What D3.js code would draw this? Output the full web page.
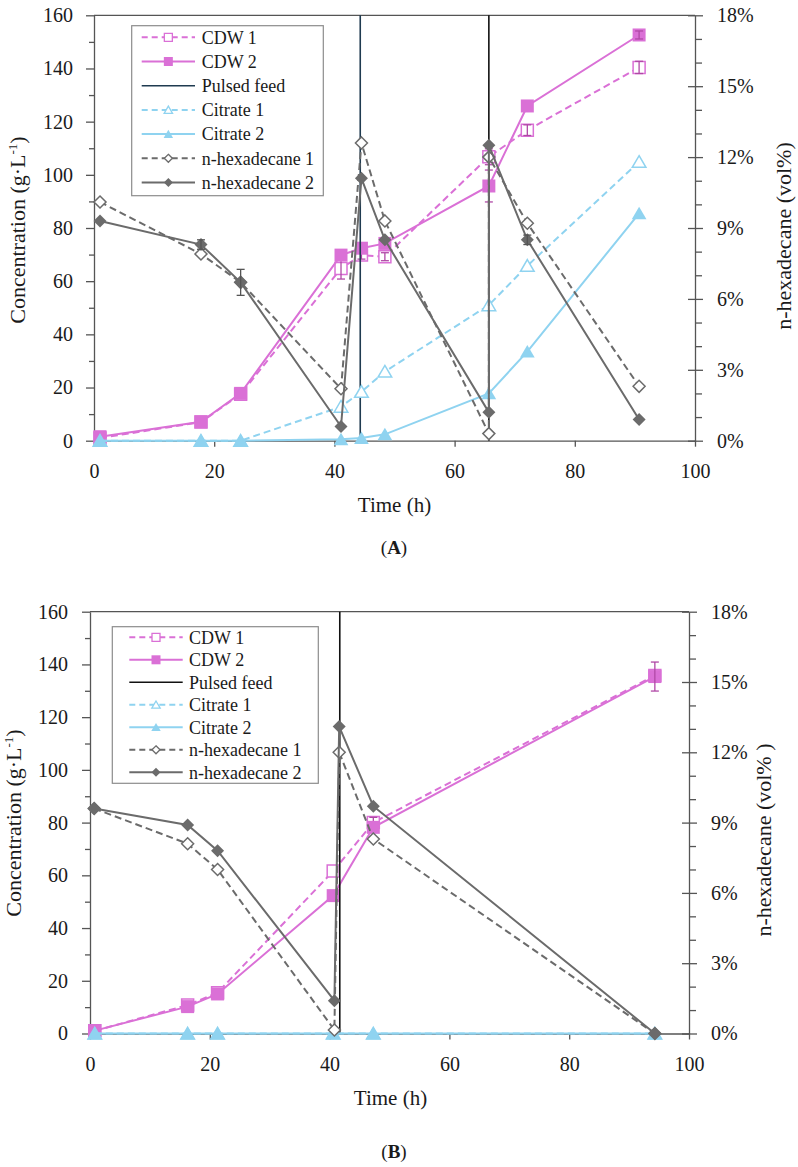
<!DOCTYPE html>
<html>
<head>
<meta charset="utf-8">
<script src="https://cdn.jsdelivr.net/npm/d3@7"></script>
<style>
body { margin: 0; background: #fff; }
svg text { font-family: "Liberation Serif", "Times New Roman", serif; }
</style>
</head>
<body>
<div id="chart"></div>
<script>
// ---- panel A data (time in h, concentration in g/L, n-hexadecane in vol%) ----
var timeA = [1.0, 17.8, 24.4, 41.1, 44.5, 48.4, 65.7, 72.1, 90.7];
var cdw1A = [1.0, 7.0, 17.5, 64.8, 69.8, 69.2, 106.8, 116.8, 140.4];
var cdw2A = [1.5, 7.1, 17.8, 69.8, 72.4, 74.2, 95.8, 125.9, 152.6];
var cdw1ErrA = [0, 0, 0, 4, 1.5, 1.5, 3, 2, 2.3];
var cdw2ErrA = [0, 0, 0, 0, 0, 0, 6, 0, 1.5];
var cit1A = [0, 0, 0, 12.8, 18.4, 26.0, 51.0, 65.8, 104.9];
var cit2A = [0, 0, 0, 0.5, 1.0, 2.4, 17.8, 33.5, 85.5];
var hexTimeA = [1.0, 17.8, 24.4, 41.1, 44.5, 48.4, 65.7, 65.7, 72.1, 90.7];
var hex1A = [10.1, 7.9, 6.7, 2.2, 12.6, 9.3, 0.3, 12.0, 9.2, 2.3];
var hex2A = [9.3, 8.3, 6.7, 0.6, 11.1, 8.5, 1.2, 12.5, 8.5, 0.9];
var hex2ErrA = [0, 0.2, 0.55, 0, 0, 0, 0, 0, 0.2, 0];
var pulseA = [44.3, 65.7];

// ---- panel B data ----
var timeB = [0.8, 16.3, 21.3, 40.6, 47.3, 94.3];
var cdw1B = [1.0, 10.8, 15.5, 61.6, 80.0, 135.8];
var cdw2B = [1.1, 10.2, 15.0, 52.3, 78.2, 135.4];
var cdw1ErrB = [0, 0, 0, 0, 2, 0];
var cdw2ErrB = [0, 0, 0, 0, 0, 5.5];
var cit1B = [0, 0, 0, 0, 0, 0];
var cit2B = [0, 0, 0, 0, 0, 0];
var hexTimeB = [0.7, 16.3, 21.3, 40.8, 41.6, 47.3, 94.3];
var hex1B = [9.6, 8.1, 7.0, 0.15, 12.0, 8.3, 0];
var hex2B = [9.6, 8.9, 7.8, 1.4, 13.1, 9.7, 0];
var pulseB = [41.7];

// axis ticks
var xTicks = [0, 20, 40, 60, 80, 100];
var leftTicks = [0, 20, 40, 60, 80, 100, 120, 140, 160];
var leftMinor = [10, 30, 50, 70, 90, 110, 130, 150];
var rightTicks = [0, 3, 6, 9, 12, 15, 18];
var rightMinor = [1, 2, 4, 5, 7, 8, 10, 11, 13, 14, 16, 17];
var legendNames = ["CDW 1", "CDW 2", "Pulsed feed", "Citrate 1", "Citrate 2", "n-hexadecane 1", "n-hexadecane 2"];

var pink = "#da70d6", pinkErr = "#b048a6", blue = "#8fd3f0", grey = "#6b6b6b",
    axisColor = "#555", textColor = "#1a1a1a";

var svg = d3.select("#chart").append("svg")
    .attr("width", 798)
    .attr("height", 1167);

// marker paths centred on 0,0
function markerPath(shape, s) {
    var h = s / 2;
    if (shape == "square") return "M" + (-h) + "," + (-h) + "H" + h + "V" + h + "H" + (-h) + "Z";
    if (shape == "triangle") return "M0," + (-h * 0.95) + "L" + (h * 1.05) + "," + (h * 0.85) + "L" + (-h * 1.05) + "," + (h * 0.85) + "Z";
    return "M0," + (-h) + "L" + h + ",0L0," + h + "L" + (-h) + ",0Z";
}

function drawPanel(p) {
    var x = d3.scaleLinear().domain([0, 100]).range([p.left, p.right]);
    var yL = d3.scaleLinear().domain([0, 160]).range([p.bottom, p.top]);
    var yR = d3.scaleLinear().domain([0, 18]).range([p.bottom, p.top]);
    var g = svg.append("g");

    //top border of the plot area
    g.append("line")
        .attr("x1", p.left).attr("x2", p.right)
        .attr("y1", p.top).attr("y2", p.top)
        .attr("stroke", axisColor).attr("stroke-width", 1.3);

    //left axis
    var la = g.append("g").attr("transform", "translate(" + p.left + ",0)")
        .call(d3.axisLeft(yL).tickValues(leftTicks).tickSize(8).tickSizeOuter(0).tickPadding(p.leftPad));
    g.append("g").attr("transform", "translate(" + p.left + ",0)")
        .call(d3.axisLeft(yL).tickValues(leftMinor).tickSize(5).tickSizeOuter(0).tickFormat(""))
        .select(".domain").remove();

    //right axis
    var ra = g.append("g").attr("transform", "translate(" + p.right + ",0)")
        .call(d3.axisRight(yR).tickValues(rightTicks).tickSize(8).tickSizeOuter(0).tickPadding(14)
            .tickFormat(function (d) { return d + "%"; }));
    ra.selectAll(".tick line").attr("x1", -7);
    g.append("g").attr("transform", "translate(" + p.right + ",0)")
        .call(d3.axisRight(yR).tickValues(rightMinor).tickSize(7).tickSizeOuter(0).tickFormat(""))
        .select(".domain").remove();

    //bottom axis
    var ba = g.append("g").attr("transform", "translate(0," + p.bottom + ")")
        .call(d3.axisBottom(x).tickValues(xTicks).tickSize(6).tickSizeOuter(0).tickPadding(17));

    g.selectAll(".domain, .tick line").attr("stroke", axisColor).attr("stroke-width", 1.3);
    [la, ra, ba].forEach(function (a) {
        a.selectAll("text").attr("fill", textColor).style("font-size", "20px");
    });

    //axis titles
    var lt = g.append("text")
        .attr("transform", "translate(" + p.leftTitle[0] + "," + p.leftTitle[1] + ") rotate(-90)")
        .attr("text-anchor", "middle").attr("dy", "0.35em")
        .attr("fill", textColor).style("font-size", "22px");
    lt.append("tspan").text("Concentration (g·L");
    lt.append("tspan").attr("dy", -8).style("font-size", "13px").text("-1");
    lt.append("tspan").attr("dy", 8).text(")");

    g.append("text")
        .attr("transform", "translate(" + p.rightTitle[0] + "," + p.rightTitle[1] + ") rotate(-90)")
        .attr("text-anchor", "middle").attr("dy", "0.35em")
        .attr("fill", textColor).style("font-size", "22px")
        .text(p.rightLabel);

    g.append("text")
        .attr("x", p.timeTitle[0]).attr("y", p.timeTitle[1])
        .attr("text-anchor", "middle").attr("dy", "0.35em")
        .attr("fill", textColor).style("font-size", "21px")
        .text("Time (h)");

    var pl = g.append("text")
        .attr("x", p.panelTitle[0]).attr("y", p.panelTitle[1])
        .attr("text-anchor", "middle").attr("dy", "0.35em")
        .attr("fill", textColor).style("font-size", "19px");
    pl.append("tspan").text("(");
    pl.append("tspan").style("font-weight", "bold").text(p.name);
    pl.append("tspan").text(")");

    //series
    p.series.forEach(function (s) {
        if (s.type == "pulse") {
            g.selectAll(null).data(s.times).enter().append("line")
                .attr("x1", function (d) { return x(d); })
                .attr("x2", function (d) { return x(d); })
                .attr("y1", p.bottom).attr("y2", p.top)
                .attr("stroke", function (d, i) { return s.colors[i]; })
                .attr("stroke-width", 1.6);
            return;
        }
        var yS = s.axis == "right" ? yR : yL;
        var pts = s.times.map(function (t, i) { return {t: t, v: s.values[i], e: s.err ? s.err[i] : 0}; });
        var line = d3.line().x(function (d) { return x(d.t); }).y(function (d) { return yS(d.v); });
        g.append("path").datum(pts)
            .attr("d", line)
            .attr("fill", "none")
            .attr("stroke", s.color)
            .attr("stroke-width", 2)
            .attr("stroke-dasharray", s.dashed ? "7,4" : null);
        g.selectAll(null).data(pts).enter().append("path")
            .attr("transform", function (d) { return "translate(" + x(d.t) + "," + yS(d.v) + ")"; })
            .attr("d", markerPath(s.shape, s.open ? s.size - 1 : s.size))
            .attr("fill", s.open ? "#fff" : s.color)
            .attr("stroke", s.color)
            .attr("stroke-width", s.open ? 1.5 : 0);
        var eb = g.selectAll(null).data(pts.filter(function (d) { return d.e > 0; })).enter().append("g")
            .attr("stroke", s.errColor).attr("stroke-width", 1.3);
        eb.append("line")
            .attr("x1", function (d) { return x(d.t); }).attr("x2", function (d) { return x(d.t); })
            .attr("y1", function (d) { return yS(d.v - d.e); }).attr("y2", function (d) { return yS(d.v + d.e); });
        [-1, 1].forEach(function (sign) {
            eb.append("line")
                .attr("x1", function (d) { return x(d.t) - 4; }).attr("x2", function (d) { return x(d.t) + 4; })
                .attr("y1", function (d) { return yS(d.v + sign * d.e); })
                .attr("y2", function (d) { return yS(d.v + sign * d.e); });
        });
    });

    //legend
    var lg = p.legend;
    var leg = g.append("g");
    leg.append("rect")
        .attr("x", lg.x0).attr("y", lg.y0)
        .attr("width", lg.x1 - lg.x0).attr("height", lg.y1 - lg.y0)
        .attr("fill", "#fff").attr("stroke", "#8c8c8c").attr("stroke-width", 1.2);
    var rows = leg.selectAll(null).data(p.series).enter().append("g")
        .attr("transform", function (d, i) { return "translate(0," + (lg.firstRow + i * lg.step) + ")"; });
    rows.append("line")
        .attr("x1", lg.sx0).attr("x2", lg.sx1)
        .attr("stroke", function (d) { return d.type == "pulse" ? d.colors[0] : d.color; })
        .attr("stroke-width", function (d) { return d.type == "pulse" ? 1.5 : 2; })
        .attr("stroke-dasharray", function (d) { return d.dashed ? "6,4" : null; });
    rows.filter(function (d) { return d.type != "pulse"; }).append("path")
        .attr("transform", "translate(" + ((lg.sx0 + lg.sx1) / 2) + ",0)")
        .attr("d", function (d) { return markerPath(d.shape, d.open ? 8 : 9); })
        .attr("fill", function (d) { return d.open ? "#fff" : d.color; })
        .attr("stroke", function (d) { return d.color; })
        .attr("stroke-width", function (d) { return d.open ? 1.3 : 0; });
    rows.append("text")
        .attr("x", lg.tx).attr("dy", "0.35em")
        .attr("fill", textColor).style("font-size", "18px")
        .text(function (d, i) { return legendNames[i]; });
}

function makeSeries(t, c1, c2, e1, e2, ci1, ci2, ht, h1, h2, he2, pulses, pulseColors) {
    return [
        {color: pink, dashed: true, shape: "square", open: true, size: 13, times: t, values: c1, err: e1, errColor: pinkErr},
        {color: pink, dashed: false, shape: "square", open: false, size: 13, times: t, values: c2, err: e2, errColor: pinkErr},
        {type: "pulse", times: pulses, colors: pulseColors},
        {color: blue, dashed: true, shape: "triangle", open: true, size: 14, times: t, values: ci1},
        {color: blue, dashed: false, shape: "triangle", open: false, size: 14, times: t, values: ci2},
        {color: grey, dashed: true, shape: "diamond", open: true, size: 13, times: ht, values: h1, axis: "right"},
        {color: grey, dashed: false, shape: "diamond", open: false, size: 13, times: ht, values: h2, err: he2, errColor: "#555", axis: "right"}
    ];
}

drawPanel({
    name: "A", left: 94, right: 695, top: 15.3, bottom: 440.7, leftPad: 13,
    leftTitle: [17, 230], rightTitle: [783, 236], rightLabel: "n-hexadecane (vol%)",
    timeTitle: [394.5, 505], panelTitle: [394, 547],
    legend: {x0: 131.7, x1: 323.3, y0: 25.7, y1: 195.7, firstRow: 37.3, step: 24.2, sx0: 141.7, sx1: 195, tx: 201.7},
    series: makeSeries(timeA, cdw1A, cdw2A, cdw1ErrA, cdw2ErrA, cit1A, cit2A, hexTimeA, hex1A, hex2A, hex2ErrA,
        pulseA, ["#1f3b50", "#111"])
});

drawPanel({
    name: "B", left: 90, right: 689, top: 611.7, bottom: 1033.5, leftPad: 14,
    leftTitle: [13, 823], rightTitle: [763, 840], rightLabel: "n-hexadecane (vol% )",
    timeTitle: [390.5, 1098], panelTitle: [394, 1151.7],
    legend: {x0: 112.3, x1: 318.3, y0: 626.7, y1: 783.3, firstRow: 637.3, step: 22.5, sx0: 129.3, sx1: 182.7, tx: 189},
    series: makeSeries(timeB, cdw1B, cdw2B, cdw1ErrB, cdw2ErrB, cit1B, cit2B, hexTimeB, hex1B, hex2B, null,
        pulseB, ["#111"])
});
</script>
</body>
</html>
